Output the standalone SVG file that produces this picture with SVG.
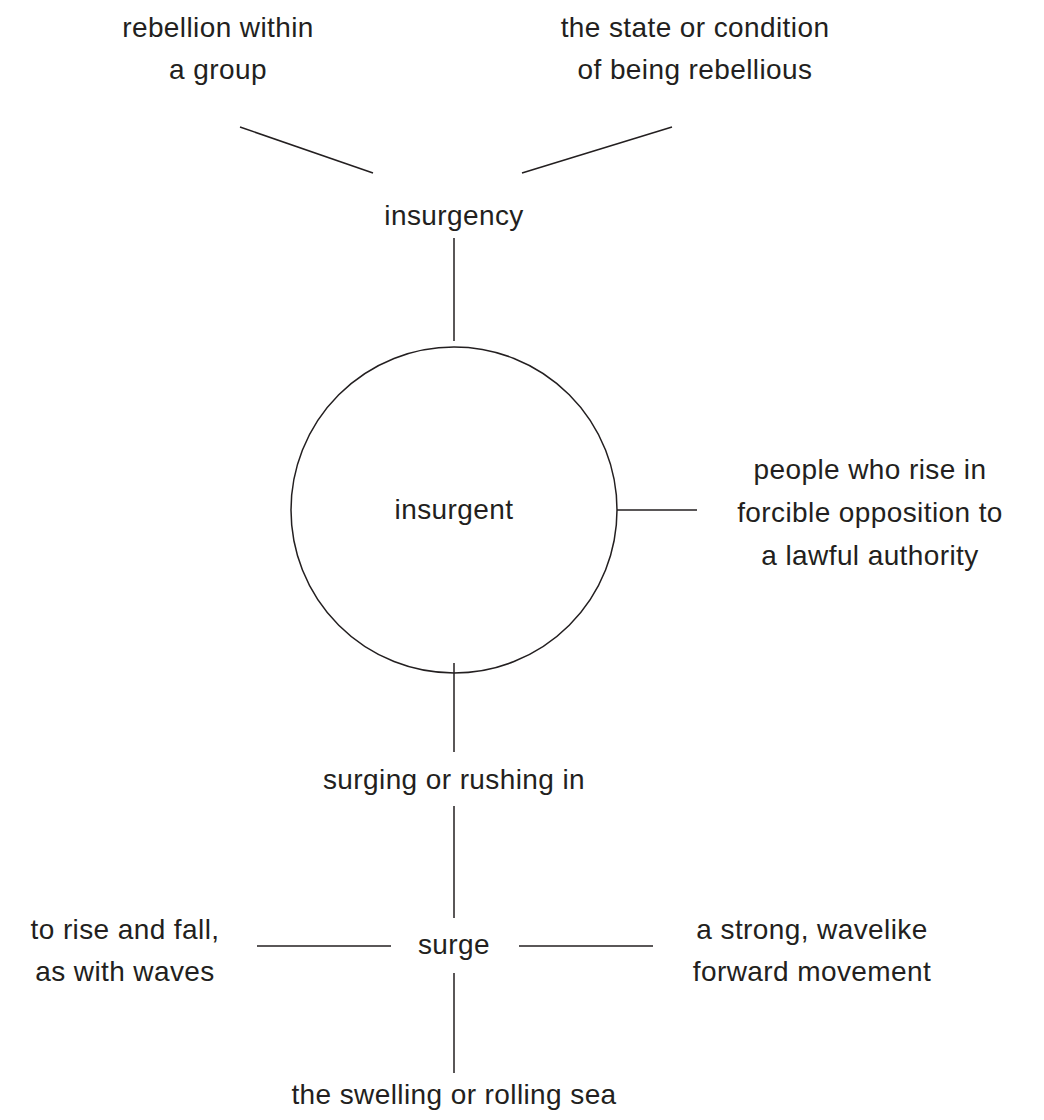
<svg xmlns="http://www.w3.org/2000/svg" width="1044" height="1120" viewBox="0 0 1044 1120">
<style>
text{font-family:"Liberation Sans","Open Sans",sans-serif;font-size:28px;fill:#231f20;text-anchor:middle;letter-spacing:0.4px}
.c{stroke:#231f20;stroke-width:1.5;fill:none}
</style>
<rect width="1044" height="1120" fill="#fff"/>
<g id="connectors">
<line class="c" x1="240" y1="127" x2="373" y2="173"/>
<line class="c" x1="522" y1="173" x2="672" y2="127"/>
<line class="c" x1="454" y1="238" x2="454" y2="341"/>
<line class="c" x1="617" y1="510" x2="697" y2="510"/>
<line class="c" x1="454" y1="663" x2="454" y2="752"/>
<line class="c" x1="454" y1="806" x2="454" y2="918"/>
<line class="c" x1="257" y1="946" x2="391" y2="946"/>
<line class="c" x1="519" y1="946" x2="653" y2="946"/>
<line class="c" x1="454" y1="973" x2="454" y2="1073"/>
</g>
<g id="n-rebellion-group"><text x="218" y="37">rebellion within</text><text x="218" y="79">a group</text></g>
<g id="n-state"><text x="695" y="37">the state or condition</text><text x="695" y="79">of being rebellious</text></g>
<g id="n-insurgency"><text x="454" y="225">insurgency</text></g>
<g id="n-insurgent"><circle class="c" cx="454" cy="510" r="163"/><text x="454" y="519">insurgent</text></g>
<g id="n-people"><text x="870" y="479">people who rise in</text><text x="870" y="522">forcible opposition to</text><text x="870" y="565">a lawful authority</text></g>
<g id="n-surging"><text x="454" y="789">surging or rushing in</text></g>
<g id="n-surge"><text x="454" y="954">surge</text></g>
<g id="n-rise-fall"><text x="125" y="939">to rise and fall,</text><text x="125" y="981">as with waves</text></g>
<g id="n-strong"><text x="812" y="939">a strong, wavelike</text><text x="812" y="981">forward movement</text></g>
<g id="n-sea"><text x="454" y="1104">the swelling or rolling sea</text></g>
</svg>
